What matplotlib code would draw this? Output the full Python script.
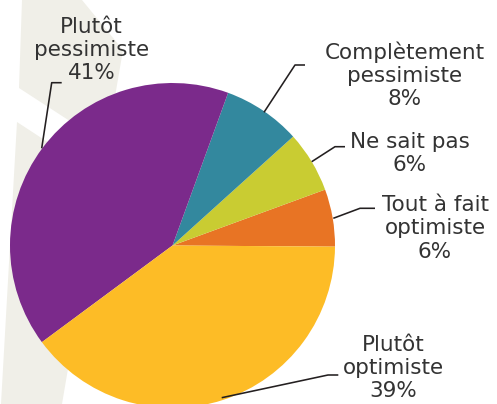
import matplotlib
matplotlib.use("Agg")
import matplotlib.pyplot as plt
from matplotlib.patches import Polygon

# ---- data ----
categories = ["Tout à fait\noptimiste", "Ne sait pas", "Complètement\npessimiste",
              "Plutôt\npessimiste", "Plutôt\noptimiste"]
shares = [5.7, 6.1, 7.75, 40.7, 39.75]          # slice sizes
pct_labels = ["6%", "6%", "8%", "41%", "39%"]      # printed percentages
colors = ["#E87424", "#C9CC32", "#33889E", "#7B2A8B", "#FDBC26"]

W, H = 497, 404
fig = plt.figure(figsize=(W / 100, H / 100), dpi=100)
ax = fig.add_axes([0, 0, 1, 1])

def Y(y):
    return H - y

# background stripes
beige = "#F0EFE8"
upper = [(22, 0), (82, 0), (123, 50), (106.7, 145), (19, 88)]
lower = [(17, 122), (100.7, 176.7), (62, 404), (1, 404)]
for poly in (upper, lower):
    ax.add_patch(Polygon([(x, Y(y)) for x, y in poly], closed=True,
                         facecolor=beige, edgecolor="none", zorder=0))

cx, cy, r = 172.5, 245.5, 162.5
ax.pie(shares, colors=colors, startangle=-0.4, counterclock=True,
       center=(cx, Y(cy)), radius=r, wedgeprops=dict(linewidth=0),
       frame=True)

# leader lines (pixel coordinates)
leaders = [
    [(333.3, 218.3), (360, 208.3), (375, 208.3)],
    [(311.7, 161.7), (335, 146.7), (345, 146.7)],
    [(264, 112.3), (295, 65), (305, 65)],
    [(41.7, 148.3), (51.7, 82.7), (61.7, 82.7)],
    [(221.7, 397.7), (328, 375), (338.3, 375)],
]
label_pos = [(435, 228.5), (410, 153.5), (405, 75.5), (91.5, 50), (393, 368)]

for pts, (tx, ty), cat, pct in zip(leaders, label_pos, categories, pct_labels):
    ax.plot([p[0] for p in pts], [Y(p[1]) for p in pts], color="#231F20",
            lw=1.15, solid_capstyle="butt", zorder=3)
    ax.text(tx, Y(ty), cat + "\n" + pct, ha="center", va="center",
            fontsize=15.5, color="#333333", family="DejaVu Sans",
            linespacing=1.2, zorder=4)

ax.set_xlim(0, W)
ax.set_ylim(0, H)
ax.set_aspect("auto")
ax.axis("off")

fig.savefig("out.png", dpi=100)
